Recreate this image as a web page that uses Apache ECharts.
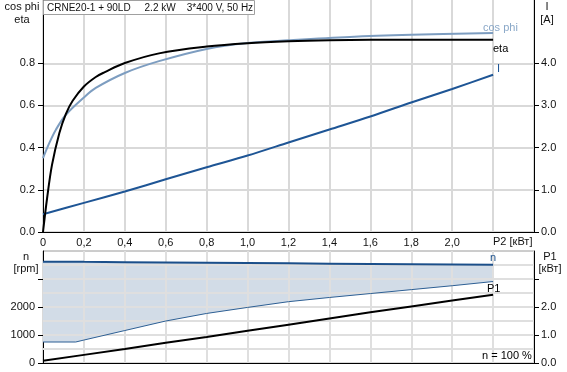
<!DOCTYPE html>
<html>
<head>
<meta charset="utf-8">
<script src="https://cdn.jsdelivr.net/npm/echarts@6/dist/echarts.min.js"></script>
<style>
html,body{margin:0;padding:0;background:#fff;}
#c{width:567px;height:372px;}
</style>
</head>
<body>
<div id="c"></div>
<script>
// ---- Data ----
// Top chart: efficiency / power factor / current vs P2 [kW]
const etaX   = [0, 0.02, 0.044, 0.08, 0.112, 0.145, 0.2, 0.258, 0.3, 0.4, 0.567, 0.8, 1.0, 1.2, 1.4, 1.6, 1.8, 2.0, 2.2];
const etaY   = [0, 0.16, 0.318, 0.469, 0.56, 0.622, 0.69, 0.735, 0.757, 0.801, 0.847, 0.879, 0.895, 0.904, 0.909, 0.911, 0.912, 0.912, 0.911];
const cosX   = [0, 0.03, 0.063, 0.112, 0.2, 0.258, 0.4, 0.567, 0.8, 1.0, 1.2, 1.5, 1.8, 2.2];
const cosY   = [0.35, 0.42, 0.485, 0.556, 0.638, 0.683, 0.754, 0.81, 0.868, 0.896, 0.909, 0.925, 0.935, 0.944];
const curX   = [0, 0.2, 0.4, 0.6, 0.8, 1.0, 1.2, 1.4, 1.6, 1.8, 2.0, 2.2];
const curY   = [0.42, 0.69, 0.96, 1.25, 1.537, 1.812, 2.121, 2.43, 2.739, 3.071, 3.39, 3.729];
// Bottom chart: speed range and input power vs P2 [kW]
const botX   = [0, 0.16, 0.2, 0.4, 0.6, 0.8, 1.0, 1.2, 1.4, 1.6, 1.8, 2.0, 2.2];
const nMax   = [3620, 3615, 3612, 3600, 3590, 3580, 3570, 3560, 3548, 3537, 3527, 3517, 3508];
const nMin   = [750, 750, 820, 1160, 1500, 1770, 1985, 2190, 2340, 2480, 2620, 2760, 2910];
const p1X    = [0, 0.2, 0.4, 0.6, 0.8, 1.0, 1.2, 1.4, 1.6, 1.8, 2.0, 2.2];
const p1Y    = [0.08, 0.29, 0.5, 0.72, 0.93, 1.15, 1.37, 1.59, 1.81, 2.02, 2.23, 2.44];
// Tick labels / grid positions
const leftTopTicks  = [0, 0.2, 0.4, 0.6, 0.8];
const rightTopTicks = [0, 1, 2, 3, 4];
const leftBotTicks  = [0, 1000, 2000];
const leftBotTickMarks = [0, 1000, 2000, 3000];
const rightBotTicks = [0, 1, 2];
const rightBotTickMarks = [0, 1, 2, 3];
const botGridX = [0.2, 0.4, 0.6, 0.8, 1.0, 1.2, 1.4, 1.6, 1.8, 2.0, 2.2];
const botGridN = [500, 1000, 1500, 2000, 2500, 3000, 3500];
const titleText = 'CRNE20-1 + 90LD     2.2 kW    3*400 V, 50 Hz';

const FONT = 'Liberation Sans, Arial, sans-serif';
const GRID_C = '#d9d9d9';
const pair = (xs, ys) => xs.map((x, i) => [x, ys[i]]);
// value-first rows so that stacking happens on the y value
const rowsYX = (xs, ys) => xs.map((x, i) => [ys[i], x]);

const chart = echarts.init(document.getElementById('c'), null, {renderer: 'canvas'});

const xFmt = v => {
  const r = Math.round(v * 10) / 10;
  if (r >= 2.15) return '';
  return r === 0 ? '0' : r.toFixed(1).replace('.', ',');
};

const txt = (x, y, text, opts) => Object.assign({
  type: 'text', x: x, y: y, z: 100,
  style: Object.assign({text: text, font: '11px ' + FONT, fill: '#111', textVerticalAlign: 'middle'}, opts || {})
});

const option = {
  animation: false,
  backgroundColor: '#fff',
  grid: [
    {left: 43, top: 0, width: 491, height: 232, show: false},
    {left: 43, top: 251, width: 491, height: 112, show: true, borderColor: '#9a9a9a', borderWidth: 1, backgroundColor: 'rgba(0,0,0,0)'}
  ],
  xAxis: [
    {gridIndex: 0, type: 'value', min: 0, max: 2.4, interval: 0.2,
     axisLine: {show: true, onZero: false, lineStyle: {color: '#000', width: 1}},
     axisTick: {show: false},
     axisLabel: {formatter: xFmt, color: '#111', fontSize: 11, fontFamily: FONT, margin: 5},
     splitLine: {show: true, lineStyle: {color: GRID_C, width: 2}}},
    {gridIndex: 1, type: 'value', min: 0, max: 2.4, interval: 0.2,
     axisLine: {show: true, onZero: false, lineStyle: {color: '#000', width: 1}},
     axisTick: {show: false},
     axisLabel: {show: false},
     splitLine: {show: true, lineStyle: {color: GRID_C, width: 2}}}
  ],
  yAxis: [
    {gridIndex: 0, type: 'value', min: 0, max: 1.1, interval: 0.1, position: 'left',
     axisLine: {show: true, lineStyle: {color: '#000', width: 1}},
     axisTick: {show: true, customValues: leftTopTicks, length: 5, inside: false, lineStyle: {color: '#000'}},
     axisLabel: {customValues: leftTopTicks, formatter: v => v.toFixed(1), color: '#111', fontSize: 11, fontFamily: FONT, margin: 8},
     splitLine: {show: true, lineStyle: {color: GRID_C, width: 2}}},
    {gridIndex: 0, type: 'value', min: 0, max: 5.5, interval: 0.5, position: 'right',
     axisLine: {show: true, lineStyle: {color: '#000', width: 1}},
     axisTick: {show: true, customValues: rightTopTicks, length: 5, inside: false, lineStyle: {color: '#000'}},
     axisLabel: {customValues: rightTopTicks, formatter: v => v.toFixed(1), color: '#111', fontSize: 11, fontFamily: FONT, margin: 7},
     splitLine: {show: false}},
    {gridIndex: 1, type: 'value', min: 0, max: 4000, interval: 500, position: 'left',
     axisLine: {show: true, onZero: false, lineStyle: {color: '#000', width: 1}},
     axisTick: {show: true, customValues: leftBotTickMarks, length: 5, inside: false, lineStyle: {color: '#000'}},
     axisLabel: {customValues: leftBotTicks, formatter: v => String(Math.round(v)), color: '#111', fontSize: 11, fontFamily: FONT, margin: 8},
     splitLine: {show: true, lineStyle: {color: GRID_C, width: 2}}},
    {gridIndex: 1, type: 'value', min: 0, max: 4, interval: 0.5, position: 'right',
     axisLine: {show: true, onZero: false, lineStyle: {color: '#000', width: 1}},
     axisTick: {show: true, customValues: rightBotTickMarks, length: 5, inside: false, lineStyle: {color: '#000'}},
     axisLabel: {customValues: rightBotTicks, formatter: v => v.toFixed(1), color: '#111', fontSize: 11, fontFamily: FONT, margin: 7},
     splitLine: {show: false}}
  ],
  series: [
    {name: 'cos phi', type: 'line', xAxisIndex: 0, yAxisIndex: 0, data: pair(cosX, cosY),
     smooth: 0.35, symbol: 'none', z: 4,
     lineStyle: {color: '#7d9dc0', width: 2}},
    {name: 'eta', type: 'line', xAxisIndex: 0, yAxisIndex: 0, data: pair(etaX, etaY),
     smooth: 0.35, symbol: 'none', z: 5,
     lineStyle: {color: '#000', width: 2}},
    {name: 'I', type: 'line', xAxisIndex: 0, yAxisIndex: 1, data: pair(curX, curY),
     smooth: 0.3, symbol: 'none', z: 4,
     lineStyle: {color: '#1e5595', width: 2}},
    // shaded speed band: n min line + stacked difference up to n max
    {name: 'nMin', type: 'line', xAxisIndex: 1, yAxisIndex: 2, data: rowsYX(botX, nMin),
     encode: {x: 1, y: 0}, stack: 'band', symbol: 'none', z: 4,
     lineStyle: {color: '#2d5f94', width: 1}},
    {name: 'band', type: 'line', xAxisIndex: 1, yAxisIndex: 2,
     data: rowsYX(botX, nMax.map((v, i) => v - nMin[i])),
     encode: {x: 1, y: 0}, stack: 'band', symbol: 'none', z: 1,
     lineStyle: {width: 0},
     areaStyle: {color: '#d2dce7', opacity: 1}},
    // grid lines of the lower panel, drawn above the shaded band
    {name: 'gridLines', type: 'line', xAxisIndex: 1, yAxisIndex: 2, data: pair(botX, nMax),
     symbol: 'none', z: 3, silent: true,
     lineStyle: {width: 0, color: '#dfdfdf'},
     markLine: {silent: true, symbol: ['none', 'none'], animation: false, z: 3,
       label: {show: false},
       lineStyle: {color: '#dfdfdf', width: 2, type: 'solid', opacity: 1},
       emphasis: {disabled: true},
       data: botGridX.map(v => ({xAxis: v})).concat(botGridN.map(v => ({yAxis: v})))}},
    {name: 'n', type: 'line', xAxisIndex: 1, yAxisIndex: 2, data: pair(botX, nMax),
     symbol: 'none', z: 5,
     lineStyle: {color: '#1b4f8a', width: 2}},
    {name: 'P1', type: 'line', xAxisIndex: 1, yAxisIndex: 3, data: pair(p1X, p1Y),
     symbol: 'none', z: 5,
     lineStyle: {color: '#000', width: 2}}
  ],
  graphic: [
    {type: 'rect', z: 99, shape: {x: 43.5, y: 0.5, width: 211, height: 14},
     style: {fill: '#fff', stroke: '#a0a0a0', lineWidth: 1}},
    txt(47, 8, titleText, {font: '10px ' + FONT}),
    txt(22, 7, 'cos phi', {textAlign: 'center'}),
    txt(22, 20, 'eta', {textAlign: 'center'}),
    txt(547, 7, 'I', {textAlign: 'center'}),
    txt(547, 20, '[A]', {textAlign: 'center'}),
    txt(493, 242, 'P2 [кВт]', {textAlign: 'left'}),
    txt(483, 28, 'cos phi', {fill: '#8aa8c8'}),
    txt(493, 49, 'eta', {fill: '#000'}),
    txt(497, 69, 'I', {fill: '#1e5595'}),
    txt(26, 257, 'n', {textAlign: 'center'}),
    txt(26, 269, '[rpm]', {textAlign: 'center'}),
    txt(550, 257, 'P1', {textAlign: 'center'}),
    txt(550, 269, '[кВт]', {textAlign: 'center'}),
    txt(490, 258, 'n', {fill: '#1b4f8a'}),
    txt(487, 289, 'P1', {fill: '#000'}),
    txt(482, 356, 'n = 100 %', {fill: '#000'})
  ]
};
chart.setOption(option);
</script>
</body>
</html>
